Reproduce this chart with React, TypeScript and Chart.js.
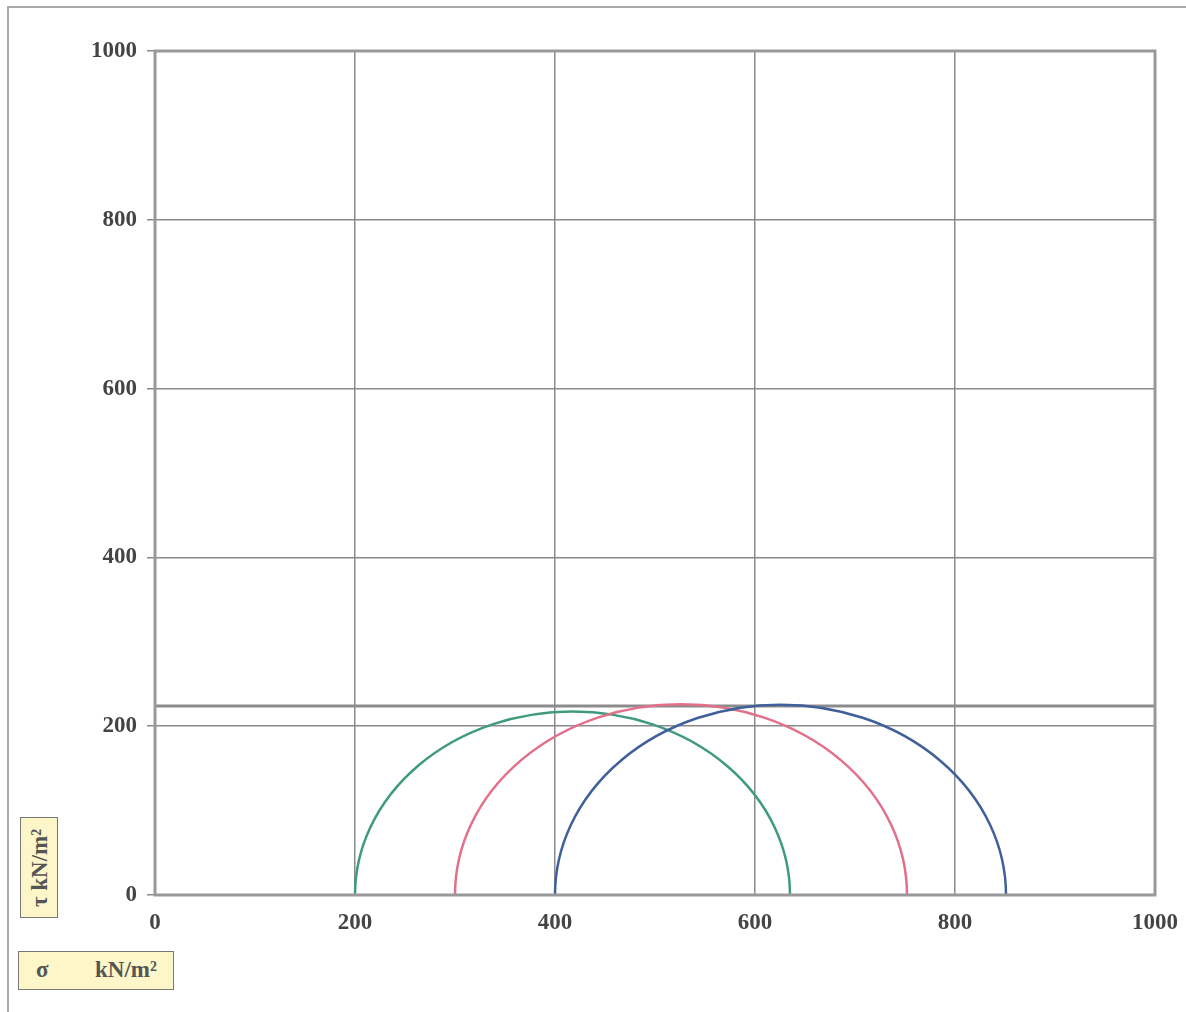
import React, { useEffect, useRef } from "react";
import { Chart, registerables } from "chart.js";

Chart.register(...registerables);

// Mohr circles: minor and major principal stresses (kN/m²)
const circleNames = ["Test 1", "Test 2", "Test 3"];
const sigma3 = [200, 300, 400];
const sigma1 = [635, 752, 851];
const circleColors = ["#3f9a80", "#e2708a", "#40609c"];

// Failure envelope (undrained cohesion, kN/m²)
const envelopeSigma = [0, 1000];
const envelopeTau = [224, 224];

const xTicks = [0, 200, 400, 600, 800, 1000];
const yTicks = [0, 200, 400, 600, 800, 1000];

const FONT = "'Liberation Serif', 'Times New Roman', serif";

const mohrPlugin = {
  id: "mohrCircles",
  afterDatasetsDraw(chart: any) {
    const { ctx, chartArea, scales } = chart;
    const xs = scales.x;
    const ys = scales.y;
    ctx.save();
    ctx.beginPath();
    ctx.rect(chartArea.left, chartArea.top, chartArea.right - chartArea.left, chartArea.bottom - chartArea.top);
    ctx.clip();
    for (let i = 0; i < sigma3.length; i++) {
      const c = (sigma1[i] + sigma3[i]) / 2;
      const r = (sigma1[i] - sigma3[i]) / 2;
      const px = xs.getPixelForValue(c);
      const py = ys.getPixelForValue(0);
      const rx = xs.getPixelForValue(c + r) - px;
      const ry = py - ys.getPixelForValue(r);
      ctx.beginPath();
      ctx.ellipse(px, py, rx, ry, 0, Math.PI, 2 * Math.PI);
      ctx.strokeStyle = circleColors[i];
      ctx.lineWidth = 2.5;
      ctx.stroke();
    }
    ctx.restore();
  },
  afterDraw(chart: any) {
    const { ctx, chartArea } = chart;
    ctx.save();
    ctx.strokeStyle = "#999999";
    ctx.lineWidth = 3;
    ctx.strokeRect(chartArea.left, chartArea.top, chartArea.right - chartArea.left, chartArea.bottom - chartArea.top);
    ctx.restore();
  },
};

export default function App() {
  const ref = useRef<HTMLCanvasElement | null>(null);

  useEffect(() => {
    document.body.style.margin = "0";
    const canvas = ref.current;
    if (!canvas) return;
    const chart = new Chart(canvas, {
      type: "scatter",
      data: {
        datasets: [
          {
            label: "Failure envelope",
            data: envelopeSigma.map((s, i) => ({ x: s, y: envelopeTau[i] })),
            showLine: true,
            borderColor: "#8c8c8c",
            borderWidth: 3,
            pointRadius: 0,
          },
        ],
      },
      options: {
        animation: false,
        responsive: false,
        maintainAspectRatio: false,
        layout: { padding: { left: 0, top: 51, right: 31, bottom: 0 } },
        plugins: {
          legend: { display: false },
          tooltip: { enabled: false },
          title: { display: false },
        },
        scales: {
          x: {
            type: "linear",
            min: 0,
            max: 1000,
            afterBuildTicks: (s: any) => {
              s.ticks = xTicks.map((v) => ({ value: v }));
            },
            afterFit: (s: any) => {
              s.height = 117;
              s.paddingLeft = 0;
              s.paddingRight = 0;
            },
            ticks: {
              color: "#444444",
              font: { family: FONT, size: 23, weight: "bold" },
              padding: 14,
              maxRotation: 0,
              callback: (v: any) => String(v),
            },
            grid: { color: "#8a8a8a", lineWidth: 1.5, drawTicks: false },
            border: { display: false },
          },
          y: {
            type: "linear",
            min: 0,
            max: 1000,
            afterBuildTicks: (s: any) => {
              s.ticks = yTicks.map((v) => ({ value: v }));
            },
            afterFit: (s: any) => {
              s.width = 155;
              s.paddingTop = 0;
              s.paddingBottom = 0;
            },
            ticks: {
              color: "#444444",
              font: { family: FONT, size: 23, weight: "bold" },
              padding: 10,
              callback: (v: any) => String(v),
            },
            grid: { color: "#8a8a8a", lineWidth: 1.5, tickLength: 8, drawTicks: true },
            border: { display: false },
          },
        },
      },
      plugins: [mohrPlugin],
    } as any);
    return () => chart.destroy();
  }, []);

  const boxStyle: React.CSSProperties = {
    position: "absolute",
    background: "#fcf6c9",
    border: "1.5px solid #777",
    boxSizing: "border-box",
    fontFamily: FONT,
    fontWeight: "bold",
    color: "#555",
    fontSize: 23,
  };

  return (
    <div style={{ position: "relative", width: 1186, height: 1012, background: "#fff", overflow: "hidden" }}>
      <div style={{ position: "absolute", left: 7, top: 6, width: 1179, height: 1006, borderTop: "2px solid #aaa", borderLeft: "2px solid #aaa", boxSizing: "border-box" }} />
      <canvas ref={ref} width={1186} height={1012} style={{ position: "absolute", left: 0, top: 0 }} />
      <div style={{ ...boxStyle, left: 20, top: 817, width: 38, height: 101 }}>
        <div
          style={{
            position: "absolute",
            left: "50%",
            top: "50%",
            transform: "translate(-50%, -50%) rotate(-90deg)",
            whiteSpace: "nowrap",
            lineHeight: 1,
          }}
        >
          τ kN/m²
        </div>
      </div>
      <div style={{ ...boxStyle, left: 18, top: 951, width: 156, height: 39 }}>
        <span style={{ position: "absolute", left: 17, top: 6, lineHeight: 1 }}>σ</span>
        <span style={{ position: "absolute", left: 76, top: 6, lineHeight: 1 }}>kN/m²</span>
      </div>
    </div>
  );
}
